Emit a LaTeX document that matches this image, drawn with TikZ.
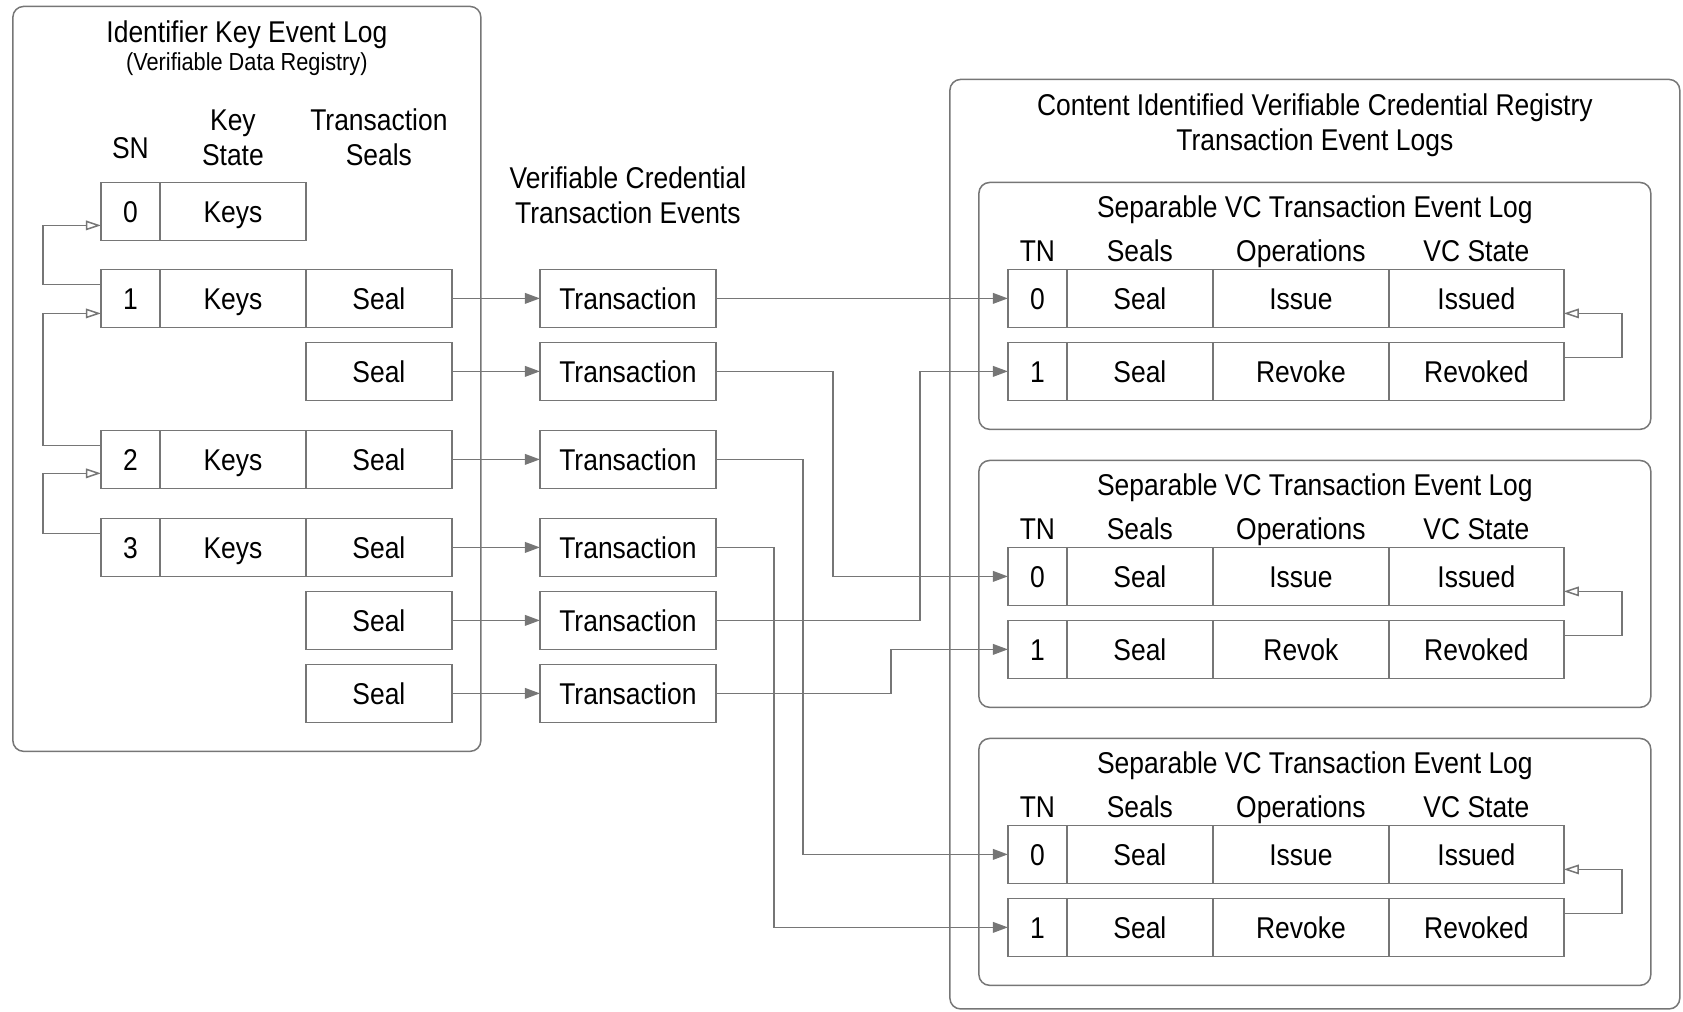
\documentclass[tikz,border=0pt]{standalone}
\usepackage{fontspec}
\setmainfont[FakeStretch=0.88]{Liberation Sans}
\usetikzlibrary{positioning,arrows.meta}
\definecolor{linegray}{RGB}{118,118,118}

\begin{document}
\begin{tikzpicture}[x=0.5pt,y=-0.5pt,
  font=\fontsize{14pt}{16pt}\selectfont,
  every node/.style={inner sep=0pt,outer sep=0pt},
  cell/.style={draw=linegray,line width=0.7pt,minimum height=27pt,text height=10pt,text depth=0pt},
  sncell/.style={cell,minimum width=27.5pt},
  keycell/.style={cell,minimum width=68pt},
  txcell/.style={cell,minimum width=82pt},
  statecell/.style={cell,minimum width=81.5pt},
  panel/.style={draw=linegray,line width=0.7pt,rounded corners=5pt},
  head/.style={align=center,text depth=0pt,anchor=south},
  flow/.style={draw=linegray,line width=0.7pt,-{Triangle[length=7pt,width=5pt]}},
  back/.style={draw=linegray,line width=0.7pt,-{Triangle[open,length=7pt,width=4.5pt]}}]
\useasboundingbox (0,0) rectangle (1568,942);
% panels
\node[panel,minimum width=218pt,minimum height=347pt] (kel) at (230,353) {};
\node[panel,minimum width=340pt,minimum height=433pt] (reg) at (1225,507) {};
\node[panel,minimum width=313pt,minimum height=115pt] (log-a) at (1225,285) {};
\node[panel,minimum width=313pt,minimum height=115pt] (log-b) at (1225,544) {};
\node[panel,minimum width=313pt,minimum height=115pt] (log-c) at (1225,803) {};
% key event log
\node[anchor=base] (kel-title) at (230,40) {Identifier Key Event Log};
\node[anchor=base,font=\fontsize{11.5pt}{13pt}\selectfont] (kel-sub) at (230,66) {(Verifiable Data Registry)};
\node[sncell] (sn-0) at (121.5,197) {0};
\node[keycell,right=0pt of sn-0] (keys-0) {Keys};
\node[sncell,below=13.5pt of sn-0] (sn-1) {1};
\node[keycell,right=0pt of sn-1] (keys-1) {Keys};
\node[keycell,right=0pt of keys-1] (seal-1) {Seal};
\node[keycell,below=7pt of seal-1] (seal-1a) {Seal};
\node[sncell,below=48pt of sn-1] (sn-2) {2};
\node[keycell,right=0pt of sn-2] (keys-2) {Keys};
\node[keycell,right=0pt of keys-2] (seal-2) {Seal};
\node[sncell,below=14pt of sn-2] (sn-3) {3};
\node[keycell,right=0pt of sn-3] (keys-3) {Keys};
\node[keycell,right=0pt of keys-3] (seal-3) {Seal};
\node[keycell,below=7pt of seal-3] (seal-3a) {Seal};
\node[keycell,below=7pt of seal-3a] (seal-3b) {Seal};
\node[head,above=11pt of sn-0] (sn-head) {SN};
\node[head,above=8pt of keys-0] (keys-head) {Key\\State};
\node[head,above=48.5pt of seal-1] (seal-head) {Transaction\\Seals};
% transaction events
\node[txcell,right=41pt of seal-1] (tx-1) {Transaction};
\node[txcell,right=41pt of seal-1a] (tx-1a) {Transaction};
\node[txcell,right=41pt of seal-2] (tx-2) {Transaction};
\node[txcell,right=41pt of seal-3] (tx-3) {Transaction};
\node[txcell,right=41pt of seal-3a] (tx-3a) {Transaction};
\node[txcell,right=41pt of seal-3b] (tx-3b) {Transaction};
\node[head,above=21.5pt of tx-1] (tx-head) {Verifiable Credential\\Transaction Events};
% registry
\node[head,above=15pt of log-a] (reg-title) {Content Identified Verifiable Credential Registry\\Transaction Event Logs};
\node[head] (title-a) at ([yshift=-16.5pt]log-a.north) {Separable VC Transaction Event Log};
\node[sncell] (tn-a0) at (966.5,278) {0};
\node[keycell,right=0pt of tn-a0] (seal-a0) {Seal};
\node[txcell,right=0pt of seal-a0] (op-a0) {Issue};
\node[statecell,right=0pt of op-a0] (st-a0) {Issued};
\node[sncell,below=7pt of tn-a0] (tn-a1) {1};
\node[keycell,right=0pt of tn-a1] (seal-a1) {Seal};
\node[txcell,right=0pt of seal-a1] (op-a1) {Revoke};
\node[statecell,right=0pt of op-a1] (st-a1) {Revoked};
\node[head,above=3.5pt of tn-a0] {TN};
\node[head,above=3.5pt of seal-a0] {Seals};
\node[head,above=3.5pt of op-a0] {Operations};
\node[head,above=3.5pt of st-a0] {VC State};
\node[head] (title-b) at ([yshift=-16.5pt]log-b.north) {Separable VC Transaction Event Log};
\node[sncell] (tn-b0) at (966.5,537) {0};
\node[keycell,right=0pt of tn-b0] (seal-b0) {Seal};
\node[txcell,right=0pt of seal-b0] (op-b0) {Issue};
\node[statecell,right=0pt of op-b0] (st-b0) {Issued};
\node[sncell,below=7pt of tn-b0] (tn-b1) {1};
\node[keycell,right=0pt of tn-b1] (seal-b1) {Seal};
\node[txcell,right=0pt of seal-b1] (op-b1) {Revok};
\node[statecell,right=0pt of op-b1] (st-b1) {Revoked};
\node[head,above=3.5pt of tn-b0] {TN};
\node[head,above=3.5pt of seal-b0] {Seals};
\node[head,above=3.5pt of op-b0] {Operations};
\node[head,above=3.5pt of st-b0] {VC State};
\node[head] (title-c) at ([yshift=-16.5pt]log-c.north) {Separable VC Transaction Event Log};
\node[sncell] (tn-c0) at (966.5,796) {0};
\node[keycell,right=0pt of tn-c0] (seal-c0) {Seal};
\node[txcell,right=0pt of seal-c0] (op-c0) {Issue};
\node[statecell,right=0pt of op-c0] (st-c0) {Issued};
\node[sncell,below=7pt of tn-c0] (tn-c1) {1};
\node[keycell,right=0pt of tn-c1] (seal-c1) {Seal};
\node[txcell,right=0pt of seal-c1] (op-c1) {Revoke};
\node[statecell,right=0pt of op-c1] (st-c1) {Revoked};
\node[head,above=3.5pt of tn-c0] {TN};
\node[head,above=3.5pt of seal-c0] {Seals};
\node[head,above=3.5pt of op-c0] {Operations};
\node[head,above=3.5pt of st-c0] {VC State};
% key state chain
\draw[back] ([yshift=6.5pt]sn-1.west) -- ++(-27pt,0) |- ([yshift=-6.5pt]sn-0.west);
\draw[back] ([yshift=6.5pt]sn-2.west) -- ++(-27pt,0) |- ([yshift=-7pt]sn-1.west);
\draw[back] ([yshift=6.5pt]sn-3.west) -- ++(-27pt,0) |- ([yshift=-6.5pt]sn-2.west);
% seals to transactions
\draw[flow] (seal-1) -- (tx-1);
\draw[flow] (seal-1a) -- (tx-1a);
\draw[flow] (seal-2) -- (tx-2);
\draw[flow] (seal-3) -- (tx-3);
\draw[flow] (seal-3a) -- (tx-3a);
\draw[flow] (seal-3b) -- (tx-3b);
% transactions to logs
\draw[flow] (tx-1) -- (tn-a0);
\draw[flow] (tx-1a.east) -- ++(54.5pt,0) |- (tn-b0.west);
\draw[flow] (tx-2.east) -- ++(40.5pt,0) |- (tn-c0.west);
\draw[flow] (tx-3.east) -- ++(27pt,0) |- (tn-c1.west);
\draw[flow] (tx-3a.east) -- ++(95pt,0) |- (tn-a1.west);
\draw[flow] (tx-3b.east) -- ++(81.5pt,0) |- (tn-b1.west);
% vc state chain
\draw[back] ([yshift=6.5pt]st-a1.east) -- ++(27pt,0) |- ([yshift=-7pt]st-a0.east);
\draw[back] ([yshift=6.5pt]st-b1.east) -- ++(27pt,0) |- ([yshift=-7pt]st-b0.east);
\draw[back] ([yshift=6.5pt]st-c1.east) -- ++(27pt,0) |- ([yshift=-7pt]st-c0.east);
\end{tikzpicture}
\end{document}
